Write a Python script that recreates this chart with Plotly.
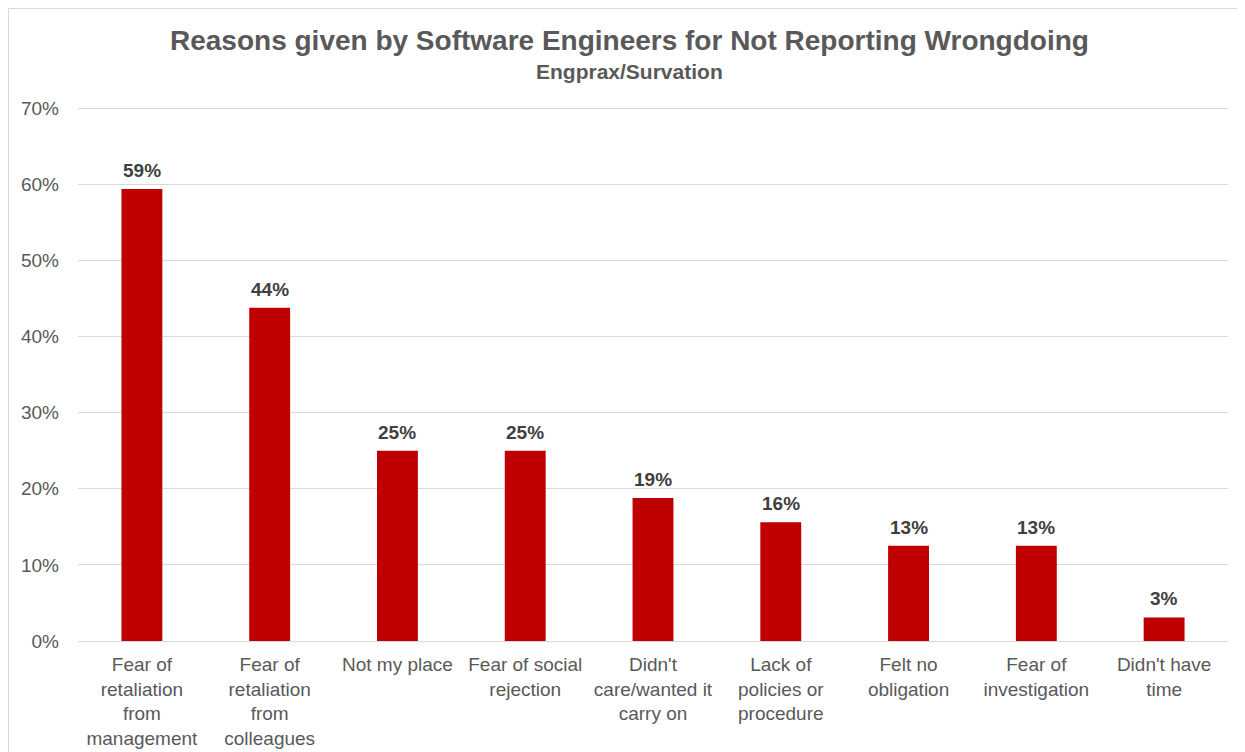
import plotly.graph_objects as go

categories = [
    "Fear of<br>retaliation<br>from<br>management",
    "Fear of<br>retaliation<br>from<br>colleagues",
    "Not my place",
    "Fear of social<br>rejection",
    "Didn't<br>care/wanted it<br>carry on",
    "Lack of<br>policies or<br>procedure",
    "Felt no<br>obligation",
    "Fear of<br>investigation",
    "Didn't have<br>time",
]
values = [0.594, 0.438, 0.25, 0.25, 0.188, 0.156, 0.125, 0.125, 0.031]
value_labels = ["59%", "44%", "25%", "25%", "19%", "16%", "13%", "13%", "3%"]
y_ticks = [0, 0.1, 0.2, 0.3, 0.4, 0.5, 0.6, 0.7]
y_tick_labels = ["0%", "10%", "20%", "30%", "40%", "50%", "60%", "70%"]

FONT = "Liberation Sans, Arial, Helvetica, sans-serif"
xs = list(range(len(categories)))

fig = go.Figure(
    go.Bar(
        x=xs,
        y=values,
        marker=dict(color="#C00000", line=dict(width=0)),
        width=0.32,
        hoverinfo="skip",
    )
)

# page body adds an 8px offset; figure sized to fit the window
W, H = 1237, 744
L, R, T, B = 70, 17, 98, 111
pw, ph = W - L - R, H - T - B

annotations = [
    dict(
        x=xi, y=v, xref="x", yref="y",
        text=lab, showarrow=False,
        xanchor="center", yanchor="bottom", yshift=6,
        font=dict(family=FONT, size=19, color="#404040", weight="bold"),
    )
    for xi, v, lab in zip(xs, values, value_labels)
]
annotations += [
    dict(
        text="Reasons given by Software Engineers for Not Reporting Wrongdoing",
        xref="paper", yref="paper",
        x=(621 - L) / pw, y=1 + (T - 32) / ph,
        xanchor="center", yanchor="middle",
        showarrow=False,
        font=dict(family=FONT, size=28, color="#595959", weight="bold"),
    ),
    dict(
        text="Engprax/Survation",
        xref="paper", yref="paper",
        x=(621 - L) / pw, y=1 + (T - 63) / ph,
        xanchor="center", yanchor="middle",
        showarrow=False,
        font=dict(family=FONT, size=21, color="#595959", weight="bold"),
    ),
]

fig.update_layout(
    width=W,
    height=H,
    margin=dict(l=L, r=R, t=T, b=B, pad=0, autoexpand=False),
    paper_bgcolor="white",
    plot_bgcolor="white",
    showlegend=False,
    font=dict(family=FONT, color="#595959"),
    xaxis=dict(
        tickmode="array",
        tickvals=xs,
        ticktext=categories,
        range=[-0.5, len(categories) - 0.5],
        tickfont=dict(size=19, color="#595959"),
        showgrid=False,
        showline=False,
        zeroline=False,
        ticks="",
        ticklabelstandoff=10,
        automargin=False,
    ),
    yaxis=dict(
        range=[0, 0.703],
        tickmode="array",
        tickvals=y_ticks,
        ticktext=y_tick_labels,
        tickfont=dict(size=19, color="#595959"),
        showgrid=True,
        gridcolor="#d9d9d9",
        gridwidth=1,
        zeroline=True,
        zerolinecolor="#d9d9d9",
        zerolinewidth=1,
        showline=False,
        ticks="",
        ticklabelstandoff=18,
        automargin=False,
    ),
    annotations=annotations,
    shapes=[
        dict(
            type="rect",
            xref="paper", yref="paper",
            x0=(0.5 - L) / pw, x1=(W + 20 - L) / pw,
            y0=-(H + 20 - (T + ph)) / ph, y1=1 + (T - 0.5) / ph,
            line=dict(color="#d9d9d9", width=1),
            fillcolor="rgba(0,0,0,0)",
            layer="below",
        )
    ],
)

fig.write_html("out.html")
